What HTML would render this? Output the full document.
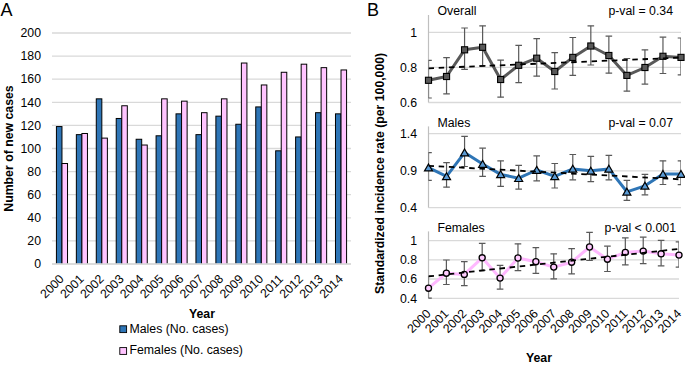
<!DOCTYPE html>
<html><head><meta charset="utf-8"><style>
html,body{margin:0;padding:0;background:#fff;width:685px;height:367px;overflow:hidden}
svg{display:block}
text{font-family:"Liberation Sans", sans-serif;fill:#000}
</style></head><body>
<svg width="685" height="367" viewBox="0 0 685 367">
<rect width="685" height="367" fill="#fff"/>
<text x="0.5" y="16" font-size="18">A</text>
<line x1="52.0" y1="264.00" x2="351.0" y2="264.00" stroke="#d9d9d9" stroke-width="1.3"/>
<text x="41" y="268.20" font-size="12.3" text-anchor="end">0</text>
<line x1="52.0" y1="240.90" x2="351.0" y2="240.90" stroke="#d9d9d9" stroke-width="1.3"/>
<text x="41" y="245.10" font-size="12.3" text-anchor="end">20</text>
<line x1="52.0" y1="217.80" x2="351.0" y2="217.80" stroke="#d9d9d9" stroke-width="1.3"/>
<text x="41" y="222.00" font-size="12.3" text-anchor="end">40</text>
<line x1="52.0" y1="194.70" x2="351.0" y2="194.70" stroke="#d9d9d9" stroke-width="1.3"/>
<text x="41" y="198.90" font-size="12.3" text-anchor="end">60</text>
<line x1="52.0" y1="171.60" x2="351.0" y2="171.60" stroke="#d9d9d9" stroke-width="1.3"/>
<text x="41" y="175.80" font-size="12.3" text-anchor="end">80</text>
<line x1="52.0" y1="148.50" x2="351.0" y2="148.50" stroke="#d9d9d9" stroke-width="1.3"/>
<text x="41" y="152.70" font-size="12.3" text-anchor="end">100</text>
<line x1="52.0" y1="125.40" x2="351.0" y2="125.40" stroke="#d9d9d9" stroke-width="1.3"/>
<text x="41" y="129.60" font-size="12.3" text-anchor="end">120</text>
<line x1="52.0" y1="102.30" x2="351.0" y2="102.30" stroke="#d9d9d9" stroke-width="1.3"/>
<text x="41" y="106.50" font-size="12.3" text-anchor="end">140</text>
<line x1="52.0" y1="79.20" x2="351.0" y2="79.20" stroke="#d9d9d9" stroke-width="1.3"/>
<text x="41" y="83.40" font-size="12.3" text-anchor="end">160</text>
<line x1="52.0" y1="56.10" x2="351.0" y2="56.10" stroke="#d9d9d9" stroke-width="1.3"/>
<text x="41" y="60.30" font-size="12.3" text-anchor="end">180</text>
<line x1="52.0" y1="33.00" x2="351.0" y2="33.00" stroke="#d9d9d9" stroke-width="1.3"/>
<text x="41" y="37.20" font-size="12.3" text-anchor="end">200</text>
<clipPath id="cb"><rect x="0" y="0" width="351.0" height="263.8"/></clipPath>
<rect clip-path="url(#cb)" x="56.42" y="126.56" width="5.55" height="138.44" fill="#2e75b6" stroke="#000" stroke-width="1"/>
<rect clip-path="url(#cb)" x="61.97" y="163.51" width="5.55" height="101.49" fill="#ffc4ff" stroke="#000" stroke-width="1"/>
<text transform="translate(58.47,273.5) rotate(-45)" font-size="12.3" text-anchor="end" dominant-baseline="hanging">2000</text>
<rect clip-path="url(#cb)" x="76.35" y="134.64" width="5.55" height="130.36" fill="#2e75b6" stroke="#000" stroke-width="1"/>
<rect clip-path="url(#cb)" x="81.90" y="133.49" width="5.55" height="131.51" fill="#ffc4ff" stroke="#000" stroke-width="1"/>
<text transform="translate(78.40,273.5) rotate(-45)" font-size="12.3" text-anchor="end" dominant-baseline="hanging">2001</text>
<rect clip-path="url(#cb)" x="96.28" y="98.84" width="5.55" height="166.16" fill="#2e75b6" stroke="#000" stroke-width="1"/>
<rect clip-path="url(#cb)" x="101.83" y="138.11" width="5.55" height="126.89" fill="#ffc4ff" stroke="#000" stroke-width="1"/>
<text transform="translate(98.33,273.5) rotate(-45)" font-size="12.3" text-anchor="end" dominant-baseline="hanging">2002</text>
<rect clip-path="url(#cb)" x="116.22" y="118.47" width="5.55" height="146.53" fill="#2e75b6" stroke="#000" stroke-width="1"/>
<rect clip-path="url(#cb)" x="121.77" y="105.76" width="5.55" height="159.24" fill="#ffc4ff" stroke="#000" stroke-width="1"/>
<text transform="translate(118.27,273.5) rotate(-45)" font-size="12.3" text-anchor="end" dominant-baseline="hanging">2003</text>
<rect clip-path="url(#cb)" x="136.15" y="139.26" width="5.55" height="125.74" fill="#2e75b6" stroke="#000" stroke-width="1"/>
<rect clip-path="url(#cb)" x="141.70" y="145.03" width="5.55" height="119.97" fill="#ffc4ff" stroke="#000" stroke-width="1"/>
<text transform="translate(138.20,273.5) rotate(-45)" font-size="12.3" text-anchor="end" dominant-baseline="hanging">2004</text>
<rect clip-path="url(#cb)" x="156.08" y="135.79" width="5.55" height="129.21" fill="#2e75b6" stroke="#000" stroke-width="1"/>
<rect clip-path="url(#cb)" x="161.63" y="98.84" width="5.55" height="166.16" fill="#ffc4ff" stroke="#000" stroke-width="1"/>
<text transform="translate(158.13,273.5) rotate(-45)" font-size="12.3" text-anchor="end" dominant-baseline="hanging">2005</text>
<rect clip-path="url(#cb)" x="176.02" y="113.85" width="5.55" height="151.15" fill="#2e75b6" stroke="#000" stroke-width="1"/>
<rect clip-path="url(#cb)" x="181.57" y="101.15" width="5.55" height="163.85" fill="#ffc4ff" stroke="#000" stroke-width="1"/>
<text transform="translate(178.07,273.5) rotate(-45)" font-size="12.3" text-anchor="end" dominant-baseline="hanging">2006</text>
<rect clip-path="url(#cb)" x="195.95" y="134.64" width="5.55" height="130.36" fill="#2e75b6" stroke="#000" stroke-width="1"/>
<rect clip-path="url(#cb)" x="201.50" y="112.69" width="5.55" height="152.31" fill="#ffc4ff" stroke="#000" stroke-width="1"/>
<text transform="translate(198.00,273.5) rotate(-45)" font-size="12.3" text-anchor="end" dominant-baseline="hanging">2007</text>
<rect clip-path="url(#cb)" x="215.88" y="116.16" width="5.55" height="148.84" fill="#2e75b6" stroke="#000" stroke-width="1"/>
<rect clip-path="url(#cb)" x="221.43" y="98.84" width="5.55" height="166.16" fill="#ffc4ff" stroke="#000" stroke-width="1"/>
<text transform="translate(217.93,273.5) rotate(-45)" font-size="12.3" text-anchor="end" dominant-baseline="hanging">2008</text>
<rect clip-path="url(#cb)" x="235.82" y="124.25" width="5.55" height="140.75" fill="#2e75b6" stroke="#000" stroke-width="1"/>
<rect clip-path="url(#cb)" x="241.37" y="63.03" width="5.55" height="201.97" fill="#ffc4ff" stroke="#000" stroke-width="1"/>
<text transform="translate(237.87,273.5) rotate(-45)" font-size="12.3" text-anchor="end" dominant-baseline="hanging">2009</text>
<rect clip-path="url(#cb)" x="255.75" y="106.92" width="5.55" height="158.08" fill="#2e75b6" stroke="#000" stroke-width="1"/>
<rect clip-path="url(#cb)" x="261.30" y="84.97" width="5.55" height="180.03" fill="#ffc4ff" stroke="#000" stroke-width="1"/>
<text transform="translate(257.80,273.5) rotate(-45)" font-size="12.3" text-anchor="end" dominant-baseline="hanging">2010</text>
<rect clip-path="url(#cb)" x="275.68" y="150.81" width="5.55" height="114.19" fill="#2e75b6" stroke="#000" stroke-width="1"/>
<rect clip-path="url(#cb)" x="281.23" y="72.27" width="5.55" height="192.73" fill="#ffc4ff" stroke="#000" stroke-width="1"/>
<text transform="translate(277.73,273.5) rotate(-45)" font-size="12.3" text-anchor="end" dominant-baseline="hanging">2011</text>
<rect clip-path="url(#cb)" x="295.62" y="136.95" width="5.55" height="128.05" fill="#2e75b6" stroke="#000" stroke-width="1"/>
<rect clip-path="url(#cb)" x="301.17" y="64.19" width="5.55" height="200.81" fill="#ffc4ff" stroke="#000" stroke-width="1"/>
<text transform="translate(297.67,273.5) rotate(-45)" font-size="12.3" text-anchor="end" dominant-baseline="hanging">2012</text>
<rect clip-path="url(#cb)" x="315.55" y="112.69" width="5.55" height="152.31" fill="#2e75b6" stroke="#000" stroke-width="1"/>
<rect clip-path="url(#cb)" x="321.10" y="67.65" width="5.55" height="197.35" fill="#ffc4ff" stroke="#000" stroke-width="1"/>
<text transform="translate(317.60,273.5) rotate(-45)" font-size="12.3" text-anchor="end" dominant-baseline="hanging">2013</text>
<rect clip-path="url(#cb)" x="335.48" y="113.85" width="5.55" height="151.15" fill="#2e75b6" stroke="#000" stroke-width="1"/>
<rect clip-path="url(#cb)" x="341.03" y="69.96" width="5.55" height="195.04" fill="#ffc4ff" stroke="#000" stroke-width="1"/>
<text transform="translate(337.53,273.5) rotate(-45)" font-size="12.3" text-anchor="end" dominant-baseline="hanging">2014</text>
<line x1="52.0" y1="264.0" x2="351.0" y2="264.0" stroke="#d9d9d9" stroke-width="1.3"/>
<text x="202" y="317.5" font-size="12.3" font-weight="bold" text-anchor="middle">Year</text>
<text transform="translate(13.0,148.5) rotate(-90)" font-size="12.3" font-weight="bold" text-anchor="middle">Number of new cases</text>
<rect x="119.8" y="325.8" width="6.8" height="6.8" fill="#2e75b6" stroke="#000" stroke-width="0.9"/>
<text x="129.5" y="332.6" font-size="12.3">Males (No. cases)</text>
<rect x="119.8" y="347.6" width="6.8" height="6.8" fill="#ffc4ff" stroke="#000" stroke-width="0.9"/>
<text x="129.5" y="354.2" font-size="12.3">Females (No. cases)</text>
<text x="367" y="16" font-size="18">B</text>
<text transform="translate(384.2,173.4) rotate(-90)" font-size="12.25" font-weight="bold" text-anchor="middle">Standardized incidence rate (per 100,000)</text>
<clipPath id="c0"><rect x="428.5" y="3" width="252.5" height="111.5"/></clipPath>
<line x1="428.5" y1="32.30" x2="681" y2="32.30" stroke="#d9d9d9" stroke-width="1.3"/>
<text x="417" y="36.50" font-size="12.3" text-anchor="end">1</text>
<line x1="428.5" y1="67.40" x2="681" y2="67.40" stroke="#d9d9d9" stroke-width="1.3"/>
<text x="417" y="71.60" font-size="12.3" text-anchor="end">0.8</text>
<line x1="428.5" y1="102.50" x2="681" y2="102.50" stroke="#d9d9d9" stroke-width="1.3"/>
<text x="417" y="106.70" font-size="12.3" text-anchor="end">0.6</text>
<line x1="428.5" y1="15" x2="428.5" y2="102.50" stroke="#bfbfbf" stroke-width="1.2"/>
<text x="437.5" y="15.3" font-size="12.3">Overall</text>
<text x="673" y="15.3" font-size="12.3" text-anchor="end">p-val = 0.34</text>
<g clip-path="url(#c0)"><line x1="428.50" y1="60.40" x2="428.50" y2="98.00" stroke="#595959" stroke-width="1.2"/><line x1="425.20" y1="60.40" x2="431.80" y2="60.40" stroke="#595959" stroke-width="1.2"/><line x1="425.20" y1="98.00" x2="431.80" y2="98.00" stroke="#595959" stroke-width="1.2"/><line x1="446.54" y1="57.70" x2="446.54" y2="93.90" stroke="#595959" stroke-width="1.2"/><line x1="443.24" y1="57.70" x2="449.84" y2="57.70" stroke="#595959" stroke-width="1.2"/><line x1="443.24" y1="93.90" x2="449.84" y2="93.90" stroke="#595959" stroke-width="1.2"/><line x1="464.57" y1="28.00" x2="464.57" y2="69.40" stroke="#595959" stroke-width="1.2"/><line x1="461.27" y1="28.00" x2="467.87" y2="28.00" stroke="#595959" stroke-width="1.2"/><line x1="461.27" y1="69.40" x2="467.87" y2="69.40" stroke="#595959" stroke-width="1.2"/><line x1="482.61" y1="25.80" x2="482.61" y2="65.80" stroke="#595959" stroke-width="1.2"/><line x1="479.31" y1="25.80" x2="485.91" y2="25.80" stroke="#595959" stroke-width="1.2"/><line x1="479.31" y1="65.80" x2="485.91" y2="65.80" stroke="#595959" stroke-width="1.2"/><line x1="500.64" y1="60.10" x2="500.64" y2="97.20" stroke="#595959" stroke-width="1.2"/><line x1="497.34" y1="60.10" x2="503.94" y2="60.10" stroke="#595959" stroke-width="1.2"/><line x1="497.34" y1="97.20" x2="503.94" y2="97.20" stroke="#595959" stroke-width="1.2"/><line x1="518.68" y1="45.40" x2="518.68" y2="82.70" stroke="#595959" stroke-width="1.2"/><line x1="515.38" y1="45.40" x2="521.98" y2="45.40" stroke="#595959" stroke-width="1.2"/><line x1="515.38" y1="82.70" x2="521.98" y2="82.70" stroke="#595959" stroke-width="1.2"/><line x1="536.71" y1="38.60" x2="536.71" y2="76.20" stroke="#595959" stroke-width="1.2"/><line x1="533.41" y1="38.60" x2="540.01" y2="38.60" stroke="#595959" stroke-width="1.2"/><line x1="533.41" y1="76.20" x2="540.01" y2="76.20" stroke="#595959" stroke-width="1.2"/><line x1="554.75" y1="52.60" x2="554.75" y2="89.00" stroke="#595959" stroke-width="1.2"/><line x1="551.45" y1="52.60" x2="558.05" y2="52.60" stroke="#595959" stroke-width="1.2"/><line x1="551.45" y1="89.00" x2="558.05" y2="89.00" stroke="#595959" stroke-width="1.2"/><line x1="572.79" y1="37.50" x2="572.79" y2="75.40" stroke="#595959" stroke-width="1.2"/><line x1="569.49" y1="37.50" x2="576.09" y2="37.50" stroke="#595959" stroke-width="1.2"/><line x1="569.49" y1="75.40" x2="576.09" y2="75.40" stroke="#595959" stroke-width="1.2"/><line x1="590.82" y1="25.80" x2="590.82" y2="65.00" stroke="#595959" stroke-width="1.2"/><line x1="587.52" y1="25.80" x2="594.12" y2="25.80" stroke="#595959" stroke-width="1.2"/><line x1="587.52" y1="65.00" x2="594.12" y2="65.00" stroke="#595959" stroke-width="1.2"/><line x1="608.86" y1="36.20" x2="608.86" y2="73.20" stroke="#595959" stroke-width="1.2"/><line x1="605.56" y1="36.20" x2="612.16" y2="36.20" stroke="#595959" stroke-width="1.2"/><line x1="605.56" y1="73.20" x2="612.16" y2="73.20" stroke="#595959" stroke-width="1.2"/><line x1="626.89" y1="58.50" x2="626.89" y2="91.20" stroke="#595959" stroke-width="1.2"/><line x1="623.59" y1="58.50" x2="630.19" y2="58.50" stroke="#595959" stroke-width="1.2"/><line x1="623.59" y1="91.20" x2="630.19" y2="91.20" stroke="#595959" stroke-width="1.2"/><line x1="644.93" y1="49.80" x2="644.93" y2="84.10" stroke="#595959" stroke-width="1.2"/><line x1="641.63" y1="49.80" x2="648.23" y2="49.80" stroke="#595959" stroke-width="1.2"/><line x1="641.63" y1="84.10" x2="648.23" y2="84.10" stroke="#595959" stroke-width="1.2"/><line x1="662.96" y1="37.20" x2="662.96" y2="73.50" stroke="#595959" stroke-width="1.2"/><line x1="659.66" y1="37.20" x2="666.26" y2="37.20" stroke="#595959" stroke-width="1.2"/><line x1="659.66" y1="73.50" x2="666.26" y2="73.50" stroke="#595959" stroke-width="1.2"/><line x1="681.00" y1="38.00" x2="681.00" y2="74.80" stroke="#595959" stroke-width="1.2"/><line x1="677.70" y1="38.00" x2="684.30" y2="38.00" stroke="#595959" stroke-width="1.2"/><line x1="677.70" y1="74.80" x2="684.30" y2="74.80" stroke="#595959" stroke-width="1.2"/></g>
<polyline points="428.50,80.30 446.54,76.50 464.57,49.80 482.61,47.30 500.64,79.50 518.68,65.30 536.71,58.20 554.75,71.50 572.79,57.40 590.82,46.00 608.86,55.50 626.89,75.40 644.93,67.50 662.96,56.30 681.00,57.40" fill="none" stroke="#595959" stroke-width="3" stroke-linejoin="round"/>
<rect x="425.45" y="77.25" width="6.1" height="6.1" fill="#595959" stroke="#000" stroke-width="1.1"/>
<rect x="443.49" y="73.45" width="6.1" height="6.1" fill="#595959" stroke="#000" stroke-width="1.1"/>
<rect x="461.52" y="46.75" width="6.1" height="6.1" fill="#595959" stroke="#000" stroke-width="1.1"/>
<rect x="479.56" y="44.25" width="6.1" height="6.1" fill="#595959" stroke="#000" stroke-width="1.1"/>
<rect x="497.59" y="76.45" width="6.1" height="6.1" fill="#595959" stroke="#000" stroke-width="1.1"/>
<rect x="515.63" y="62.25" width="6.1" height="6.1" fill="#595959" stroke="#000" stroke-width="1.1"/>
<rect x="533.66" y="55.15" width="6.1" height="6.1" fill="#595959" stroke="#000" stroke-width="1.1"/>
<rect x="551.70" y="68.45" width="6.1" height="6.1" fill="#595959" stroke="#000" stroke-width="1.1"/>
<rect x="569.74" y="54.35" width="6.1" height="6.1" fill="#595959" stroke="#000" stroke-width="1.1"/>
<rect x="587.77" y="42.95" width="6.1" height="6.1" fill="#595959" stroke="#000" stroke-width="1.1"/>
<rect x="605.81" y="52.45" width="6.1" height="6.1" fill="#595959" stroke="#000" stroke-width="1.1"/>
<rect x="623.84" y="72.35" width="6.1" height="6.1" fill="#595959" stroke="#000" stroke-width="1.1"/>
<rect x="641.88" y="64.45" width="6.1" height="6.1" fill="#595959" stroke="#000" stroke-width="1.1"/>
<rect x="659.91" y="53.25" width="6.1" height="6.1" fill="#595959" stroke="#000" stroke-width="1.1"/>
<rect x="677.95" y="54.35" width="6.1" height="6.1" fill="#595959" stroke="#000" stroke-width="1.1"/>
<line clip-path="url(#c0)" x1="428.5" y1="68.3" x2="681" y2="57.6" stroke="#000" stroke-width="1.8" stroke-dasharray="5.5 4.7"/>
<clipPath id="c1"><rect x="428.5" y="114.4" width="252.5" height="105.19999999999999"/></clipPath>
<line x1="428.5" y1="133.60" x2="681" y2="133.60" stroke="#d9d9d9" stroke-width="1.3"/>
<text x="417" y="137.80" font-size="12.3" text-anchor="end">1.4</text>
<line x1="428.5" y1="170.80" x2="681" y2="170.80" stroke="#d9d9d9" stroke-width="1.3"/>
<text x="417" y="175.00" font-size="12.3" text-anchor="end">0.9</text>
<line x1="428.5" y1="207.60" x2="681" y2="207.60" stroke="#d9d9d9" stroke-width="1.3"/>
<text x="417" y="211.80" font-size="12.3" text-anchor="end">0.4</text>
<line x1="428.5" y1="126.4" x2="428.5" y2="207.60" stroke="#bfbfbf" stroke-width="1.2"/>
<text x="437.5" y="126.9" font-size="12.3">Males</text>
<text x="673" y="126.9" font-size="12.3" text-anchor="end">p-val = 0.07</text>
<g clip-path="url(#c1)"><line x1="428.50" y1="152.60" x2="428.50" y2="180.40" stroke="#595959" stroke-width="1.2"/><line x1="425.20" y1="152.60" x2="431.80" y2="152.60" stroke="#595959" stroke-width="1.2"/><line x1="425.20" y1="180.40" x2="431.80" y2="180.40" stroke="#595959" stroke-width="1.2"/><line x1="446.54" y1="162.70" x2="446.54" y2="187.20" stroke="#595959" stroke-width="1.2"/><line x1="443.24" y1="162.70" x2="449.84" y2="162.70" stroke="#595959" stroke-width="1.2"/><line x1="443.24" y1="187.20" x2="449.84" y2="187.20" stroke="#595959" stroke-width="1.2"/><line x1="464.57" y1="136.40" x2="464.57" y2="166.50" stroke="#595959" stroke-width="1.2"/><line x1="461.27" y1="136.40" x2="467.87" y2="136.40" stroke="#595959" stroke-width="1.2"/><line x1="461.27" y1="166.50" x2="467.87" y2="166.50" stroke="#595959" stroke-width="1.2"/><line x1="482.61" y1="148.20" x2="482.61" y2="176.30" stroke="#595959" stroke-width="1.2"/><line x1="479.31" y1="148.20" x2="485.91" y2="148.20" stroke="#595959" stroke-width="1.2"/><line x1="479.31" y1="176.30" x2="485.91" y2="176.30" stroke="#595959" stroke-width="1.2"/><line x1="500.64" y1="160.80" x2="500.64" y2="186.40" stroke="#595959" stroke-width="1.2"/><line x1="497.34" y1="160.80" x2="503.94" y2="160.80" stroke="#595959" stroke-width="1.2"/><line x1="497.34" y1="186.40" x2="503.94" y2="186.40" stroke="#595959" stroke-width="1.2"/><line x1="518.68" y1="165.40" x2="518.68" y2="189.10" stroke="#595959" stroke-width="1.2"/><line x1="515.38" y1="165.40" x2="521.98" y2="165.40" stroke="#595959" stroke-width="1.2"/><line x1="515.38" y1="189.10" x2="521.98" y2="189.10" stroke="#595959" stroke-width="1.2"/><line x1="536.71" y1="155.90" x2="536.71" y2="180.90" stroke="#595959" stroke-width="1.2"/><line x1="533.41" y1="155.90" x2="540.01" y2="155.90" stroke="#595959" stroke-width="1.2"/><line x1="533.41" y1="180.90" x2="540.01" y2="180.90" stroke="#595959" stroke-width="1.2"/><line x1="554.75" y1="163.50" x2="554.75" y2="188.00" stroke="#595959" stroke-width="1.2"/><line x1="551.45" y1="163.50" x2="558.05" y2="163.50" stroke="#595959" stroke-width="1.2"/><line x1="551.45" y1="188.00" x2="558.05" y2="188.00" stroke="#595959" stroke-width="1.2"/><line x1="572.79" y1="154.50" x2="572.79" y2="179.80" stroke="#595959" stroke-width="1.2"/><line x1="569.49" y1="154.50" x2="576.09" y2="154.50" stroke="#595959" stroke-width="1.2"/><line x1="569.49" y1="179.80" x2="576.09" y2="179.80" stroke="#595959" stroke-width="1.2"/><line x1="590.82" y1="156.40" x2="590.82" y2="181.70" stroke="#595959" stroke-width="1.2"/><line x1="587.52" y1="156.40" x2="594.12" y2="156.40" stroke="#595959" stroke-width="1.2"/><line x1="587.52" y1="181.70" x2="594.12" y2="181.70" stroke="#595959" stroke-width="1.2"/><line x1="608.86" y1="155.30" x2="608.86" y2="179.80" stroke="#595959" stroke-width="1.2"/><line x1="605.56" y1="155.30" x2="612.16" y2="155.30" stroke="#595959" stroke-width="1.2"/><line x1="605.56" y1="179.80" x2="612.16" y2="179.80" stroke="#595959" stroke-width="1.2"/><line x1="626.89" y1="180.40" x2="626.89" y2="200.30" stroke="#595959" stroke-width="1.2"/><line x1="623.59" y1="180.40" x2="630.19" y2="180.40" stroke="#595959" stroke-width="1.2"/><line x1="623.59" y1="200.30" x2="630.19" y2="200.30" stroke="#595959" stroke-width="1.2"/><line x1="644.93" y1="174.40" x2="644.93" y2="194.80" stroke="#595959" stroke-width="1.2"/><line x1="641.63" y1="174.40" x2="648.23" y2="174.40" stroke="#595959" stroke-width="1.2"/><line x1="641.63" y1="194.80" x2="648.23" y2="194.80" stroke="#595959" stroke-width="1.2"/><line x1="662.96" y1="160.80" x2="662.96" y2="184.50" stroke="#595959" stroke-width="1.2"/><line x1="659.66" y1="160.80" x2="666.26" y2="160.80" stroke="#595959" stroke-width="1.2"/><line x1="659.66" y1="184.50" x2="666.26" y2="184.50" stroke="#595959" stroke-width="1.2"/><line x1="681.00" y1="160.80" x2="681.00" y2="184.70" stroke="#595959" stroke-width="1.2"/><line x1="677.70" y1="160.80" x2="684.30" y2="160.80" stroke="#595959" stroke-width="1.2"/><line x1="677.70" y1="184.70" x2="684.30" y2="184.70" stroke="#595959" stroke-width="1.2"/></g>
<polyline points="428.50,167.60 446.54,176.30 464.57,152.60 482.61,164.00 500.64,174.40 518.68,178.20 536.71,170.00 554.75,176.40 572.79,168.90 590.82,170.80 608.86,168.90 626.89,191.80 644.93,185.80 662.96,174.10 681.00,174.10" fill="none" stroke="#2e75b6" stroke-width="3" stroke-linejoin="round"/>
<polygon points="428.50,164.00 432.50,170.90 424.50,170.90" fill="#5b9bd5" stroke="#000" stroke-width="1.2"/>
<polygon points="446.54,172.70 450.54,179.60 442.54,179.60" fill="#5b9bd5" stroke="#000" stroke-width="1.2"/>
<polygon points="464.57,149.00 468.57,155.90 460.57,155.90" fill="#5b9bd5" stroke="#000" stroke-width="1.2"/>
<polygon points="482.61,160.40 486.61,167.30 478.61,167.30" fill="#5b9bd5" stroke="#000" stroke-width="1.2"/>
<polygon points="500.64,170.80 504.64,177.70 496.64,177.70" fill="#5b9bd5" stroke="#000" stroke-width="1.2"/>
<polygon points="518.68,174.60 522.68,181.50 514.68,181.50" fill="#5b9bd5" stroke="#000" stroke-width="1.2"/>
<polygon points="536.71,166.40 540.71,173.30 532.71,173.30" fill="#5b9bd5" stroke="#000" stroke-width="1.2"/>
<polygon points="554.75,172.80 558.75,179.70 550.75,179.70" fill="#5b9bd5" stroke="#000" stroke-width="1.2"/>
<polygon points="572.79,165.30 576.79,172.20 568.79,172.20" fill="#5b9bd5" stroke="#000" stroke-width="1.2"/>
<polygon points="590.82,167.20 594.82,174.10 586.82,174.10" fill="#5b9bd5" stroke="#000" stroke-width="1.2"/>
<polygon points="608.86,165.30 612.86,172.20 604.86,172.20" fill="#5b9bd5" stroke="#000" stroke-width="1.2"/>
<polygon points="626.89,188.20 630.89,195.10 622.89,195.10" fill="#5b9bd5" stroke="#000" stroke-width="1.2"/>
<polygon points="644.93,182.20 648.93,189.10 640.93,189.10" fill="#5b9bd5" stroke="#000" stroke-width="1.2"/>
<polygon points="662.96,170.50 666.96,177.40 658.96,177.40" fill="#5b9bd5" stroke="#000" stroke-width="1.2"/>
<polygon points="681.00,170.50 685.00,177.40 677.00,177.40" fill="#5b9bd5" stroke="#000" stroke-width="1.2"/>
<line clip-path="url(#c1)" x1="428.5" y1="165.8" x2="681" y2="179.4" stroke="#000" stroke-width="1.8" stroke-dasharray="5.5 4.7"/>
<clipPath id="c2"><rect x="428.5" y="219.4" width="250.5" height="90.9"/></clipPath>
<line x1="428.5" y1="240.70" x2="679" y2="240.70" stroke="#d9d9d9" stroke-width="1.3"/>
<text x="417" y="244.90" font-size="12.3" text-anchor="end">1</text>
<line x1="428.5" y1="259.80" x2="679" y2="259.80" stroke="#d9d9d9" stroke-width="1.3"/>
<text x="417" y="264.00" font-size="12.3" text-anchor="end">0.8</text>
<line x1="428.5" y1="279.00" x2="679" y2="279.00" stroke="#d9d9d9" stroke-width="1.3"/>
<text x="417" y="283.20" font-size="12.3" text-anchor="end">0.6</text>
<line x1="428.5" y1="298.30" x2="679" y2="298.30" stroke="#d9d9d9" stroke-width="1.3"/>
<text x="417" y="302.50" font-size="12.3" text-anchor="end">0.4</text>
<line x1="428.5" y1="231.4" x2="428.5" y2="298.30" stroke="#bfbfbf" stroke-width="1.2"/>
<text x="437.5" y="231.5" font-size="12.3">Females</text>
<text x="676" y="231.5" font-size="12.3" text-anchor="end">p-val &lt; 0.001</text>
<g clip-path="url(#c2)"><line x1="428.50" y1="276.20" x2="428.50" y2="298.20" stroke="#595959" stroke-width="1.2"/><line x1="425.20" y1="276.20" x2="431.80" y2="276.20" stroke="#595959" stroke-width="1.2"/><line x1="425.20" y1="298.20" x2="431.80" y2="298.20" stroke="#595959" stroke-width="1.2"/><line x1="446.39" y1="260.00" x2="446.39" y2="284.50" stroke="#595959" stroke-width="1.2"/><line x1="443.09" y1="260.00" x2="449.69" y2="260.00" stroke="#595959" stroke-width="1.2"/><line x1="443.09" y1="284.50" x2="449.69" y2="284.50" stroke="#595959" stroke-width="1.2"/><line x1="464.29" y1="261.70" x2="464.29" y2="285.70" stroke="#595959" stroke-width="1.2"/><line x1="460.99" y1="261.70" x2="467.59" y2="261.70" stroke="#595959" stroke-width="1.2"/><line x1="460.99" y1="285.70" x2="467.59" y2="285.70" stroke="#595959" stroke-width="1.2"/><line x1="482.18" y1="243.30" x2="482.18" y2="270.30" stroke="#595959" stroke-width="1.2"/><line x1="478.88" y1="243.30" x2="485.48" y2="243.30" stroke="#595959" stroke-width="1.2"/><line x1="478.88" y1="270.30" x2="485.48" y2="270.30" stroke="#595959" stroke-width="1.2"/><line x1="500.07" y1="265.40" x2="500.07" y2="289.10" stroke="#595959" stroke-width="1.2"/><line x1="496.77" y1="265.40" x2="503.37" y2="265.40" stroke="#595959" stroke-width="1.2"/><line x1="496.77" y1="289.10" x2="503.37" y2="289.10" stroke="#595959" stroke-width="1.2"/><line x1="517.96" y1="243.80" x2="517.96" y2="270.70" stroke="#595959" stroke-width="1.2"/><line x1="514.66" y1="243.80" x2="521.26" y2="243.80" stroke="#595959" stroke-width="1.2"/><line x1="514.66" y1="270.70" x2="521.26" y2="270.70" stroke="#595959" stroke-width="1.2"/><line x1="535.86" y1="247.70" x2="535.86" y2="273.40" stroke="#595959" stroke-width="1.2"/><line x1="532.56" y1="247.70" x2="539.16" y2="247.70" stroke="#595959" stroke-width="1.2"/><line x1="532.56" y1="273.40" x2="539.16" y2="273.40" stroke="#595959" stroke-width="1.2"/><line x1="553.75" y1="253.80" x2="553.75" y2="278.80" stroke="#595959" stroke-width="1.2"/><line x1="550.45" y1="253.80" x2="557.05" y2="253.80" stroke="#595959" stroke-width="1.2"/><line x1="550.45" y1="278.80" x2="557.05" y2="278.80" stroke="#595959" stroke-width="1.2"/><line x1="571.64" y1="248.70" x2="571.64" y2="273.90" stroke="#595959" stroke-width="1.2"/><line x1="568.34" y1="248.70" x2="574.94" y2="248.70" stroke="#595959" stroke-width="1.2"/><line x1="568.34" y1="273.90" x2="574.94" y2="273.90" stroke="#595959" stroke-width="1.2"/><line x1="589.54" y1="232.30" x2="589.54" y2="260.50" stroke="#595959" stroke-width="1.2"/><line x1="586.24" y1="232.30" x2="592.84" y2="232.30" stroke="#595959" stroke-width="1.2"/><line x1="586.24" y1="260.50" x2="592.84" y2="260.50" stroke="#595959" stroke-width="1.2"/><line x1="607.43" y1="246.20" x2="607.43" y2="271.50" stroke="#595959" stroke-width="1.2"/><line x1="604.13" y1="246.20" x2="610.73" y2="246.20" stroke="#595959" stroke-width="1.2"/><line x1="604.13" y1="271.50" x2="610.73" y2="271.50" stroke="#595959" stroke-width="1.2"/><line x1="625.32" y1="237.90" x2="625.32" y2="264.90" stroke="#595959" stroke-width="1.2"/><line x1="622.02" y1="237.90" x2="628.62" y2="237.90" stroke="#595959" stroke-width="1.2"/><line x1="622.02" y1="264.90" x2="628.62" y2="264.90" stroke="#595959" stroke-width="1.2"/><line x1="643.21" y1="237.20" x2="643.21" y2="263.60" stroke="#595959" stroke-width="1.2"/><line x1="639.91" y1="237.20" x2="646.51" y2="237.20" stroke="#595959" stroke-width="1.2"/><line x1="639.91" y1="263.60" x2="646.51" y2="263.60" stroke="#595959" stroke-width="1.2"/><line x1="661.11" y1="240.30" x2="661.11" y2="265.80" stroke="#595959" stroke-width="1.2"/><line x1="657.81" y1="240.30" x2="664.41" y2="240.30" stroke="#595959" stroke-width="1.2"/><line x1="657.81" y1="265.80" x2="664.41" y2="265.80" stroke="#595959" stroke-width="1.2"/><line x1="679.00" y1="241.90" x2="679.00" y2="267.10" stroke="#595959" stroke-width="1.2"/><line x1="675.70" y1="241.90" x2="682.30" y2="241.90" stroke="#595959" stroke-width="1.2"/><line x1="675.70" y1="267.10" x2="682.30" y2="267.10" stroke="#595959" stroke-width="1.2"/></g>
<polyline points="428.50,288.20 446.39,273.20 464.29,274.40 482.18,257.80 500.07,278.10 517.96,258.00 535.86,261.70 553.75,267.10 571.64,262.20 589.54,247.00 607.43,259.20 625.32,252.40 643.21,251.10 661.11,253.80 679.00,255.10" fill="none" stroke="#ffb8ff" stroke-width="3" stroke-linejoin="round"/>
<circle cx="428.50" cy="288.20" r="3.05" fill="#ffccff" stroke="#000" stroke-width="1.3"/>
<circle cx="446.39" cy="273.20" r="3.05" fill="#ffccff" stroke="#000" stroke-width="1.3"/>
<circle cx="464.29" cy="274.40" r="3.05" fill="#ffccff" stroke="#000" stroke-width="1.3"/>
<circle cx="482.18" cy="257.80" r="3.05" fill="#ffccff" stroke="#000" stroke-width="1.3"/>
<circle cx="500.07" cy="278.10" r="3.05" fill="#ffccff" stroke="#000" stroke-width="1.3"/>
<circle cx="517.96" cy="258.00" r="3.05" fill="#ffccff" stroke="#000" stroke-width="1.3"/>
<circle cx="535.86" cy="261.70" r="3.05" fill="#ffccff" stroke="#000" stroke-width="1.3"/>
<circle cx="553.75" cy="267.10" r="3.05" fill="#ffccff" stroke="#000" stroke-width="1.3"/>
<circle cx="571.64" cy="262.20" r="3.05" fill="#ffccff" stroke="#000" stroke-width="1.3"/>
<circle cx="589.54" cy="247.00" r="3.05" fill="#ffccff" stroke="#000" stroke-width="1.3"/>
<circle cx="607.43" cy="259.20" r="3.05" fill="#ffccff" stroke="#000" stroke-width="1.3"/>
<circle cx="625.32" cy="252.40" r="3.05" fill="#ffccff" stroke="#000" stroke-width="1.3"/>
<circle cx="643.21" cy="251.10" r="3.05" fill="#ffccff" stroke="#000" stroke-width="1.3"/>
<circle cx="661.11" cy="253.80" r="3.05" fill="#ffccff" stroke="#000" stroke-width="1.3"/>
<circle cx="679.00" cy="255.10" r="3.05" fill="#ffccff" stroke="#000" stroke-width="1.3"/>
<line clip-path="url(#c2)" x1="428.5" y1="276.4" x2="679" y2="248.9" stroke="#000" stroke-width="1.8" stroke-dasharray="5.5 4.7"/>
<text transform="translate(425.30,308.3) rotate(-45)" font-size="12.3" text-anchor="end" dominant-baseline="hanging">2000</text>
<text transform="translate(443.19,308.3) rotate(-45)" font-size="12.3" text-anchor="end" dominant-baseline="hanging">2001</text>
<text transform="translate(461.09,308.3) rotate(-45)" font-size="12.3" text-anchor="end" dominant-baseline="hanging">2002</text>
<text transform="translate(478.98,308.3) rotate(-45)" font-size="12.3" text-anchor="end" dominant-baseline="hanging">2003</text>
<text transform="translate(496.87,308.3) rotate(-45)" font-size="12.3" text-anchor="end" dominant-baseline="hanging">2004</text>
<text transform="translate(514.76,308.3) rotate(-45)" font-size="12.3" text-anchor="end" dominant-baseline="hanging">2005</text>
<text transform="translate(532.66,308.3) rotate(-45)" font-size="12.3" text-anchor="end" dominant-baseline="hanging">2006</text>
<text transform="translate(550.55,308.3) rotate(-45)" font-size="12.3" text-anchor="end" dominant-baseline="hanging">2007</text>
<text transform="translate(568.44,308.3) rotate(-45)" font-size="12.3" text-anchor="end" dominant-baseline="hanging">2008</text>
<text transform="translate(586.34,308.3) rotate(-45)" font-size="12.3" text-anchor="end" dominant-baseline="hanging">2009</text>
<text transform="translate(604.23,308.3) rotate(-45)" font-size="12.3" text-anchor="end" dominant-baseline="hanging">2010</text>
<text transform="translate(622.12,308.3) rotate(-45)" font-size="12.3" text-anchor="end" dominant-baseline="hanging">2011</text>
<text transform="translate(640.01,308.3) rotate(-45)" font-size="12.3" text-anchor="end" dominant-baseline="hanging">2012</text>
<text transform="translate(657.91,308.3) rotate(-45)" font-size="12.3" text-anchor="end" dominant-baseline="hanging">2013</text>
<text transform="translate(675.80,308.3) rotate(-45)" font-size="12.3" text-anchor="end" dominant-baseline="hanging">2014</text>
<text x="539" y="362" font-size="12.3" font-weight="bold" text-anchor="middle">Year</text>
</svg>
</body></html>
